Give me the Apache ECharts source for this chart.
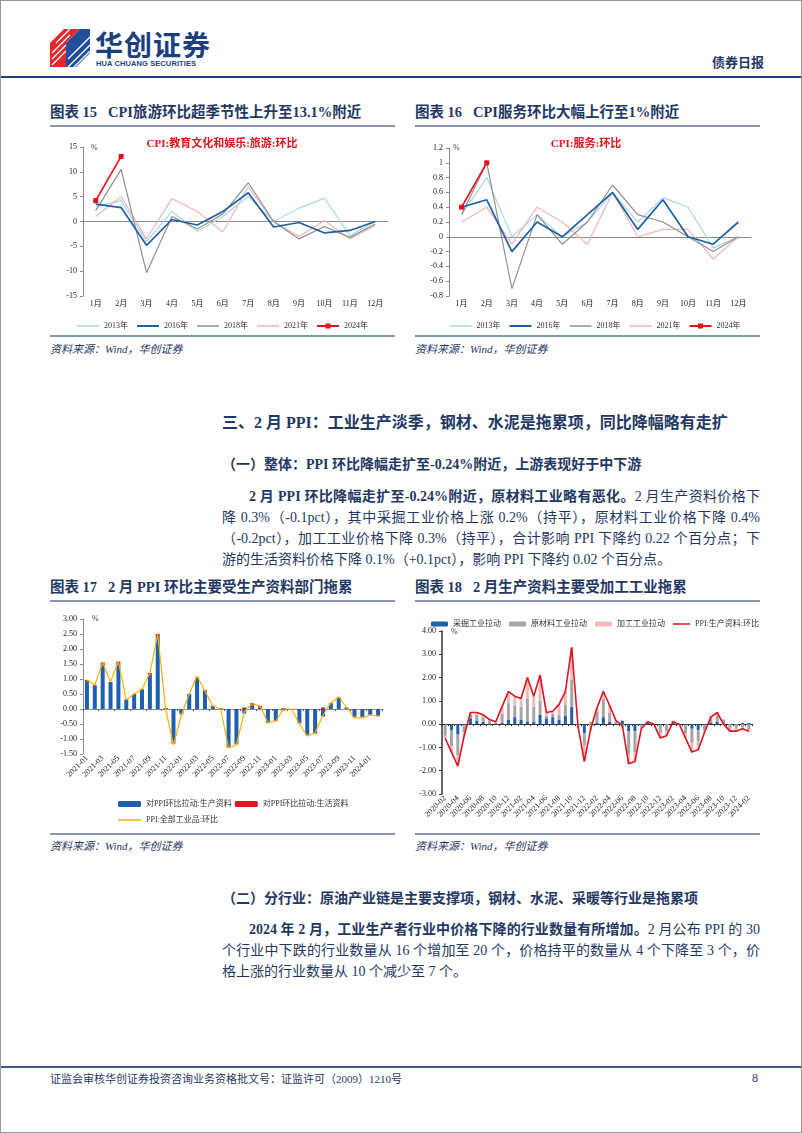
<!DOCTYPE html>
<html lang="zh">
<head>
<meta charset="utf-8">
<script src="https://cdn.jsdelivr.net/npm/echarts@6/dist/echarts.min.js"></script>
<style>
html,body{margin:0;padding:0;background:#fff;}
body{width:802px;height:1133px;position:relative;overflow:hidden;font-family:"Liberation Serif","Noto Sans CJK SC",serif;color:#1f3864;}
.frame{position:absolute;left:0;top:0;width:800px;height:1131px;border:1px solid #9a9a9a;}
.abs{position:absolute;white-space:nowrap;}
.ft{font-size:14.5px;font-weight:bold;line-height:20px;color:#1f3864;}
.rule{position:absolute;height:2px;background:#8496b0;}
.src{font-size:11px;font-style:italic;line-height:14px;color:#1f3864;}
.h1{font-size:16px;font-weight:bold;line-height:20px;}
.h2{font-size:14px;font-weight:bold;line-height:20px;}
.p{font-size:14px;line-height:21px;width:538px;}
.p div{white-space:nowrap;text-align:justify;text-align-last:justify;}
.p div.last{text-align-last:left;}
.p b{font-weight:bold;}
.chart{position:absolute;}
</style>
</head>
<body>
<div class="frame"></div>

<!-- header -->
<svg class="abs" style="left:50px;top:29px" width="40" height="38" viewBox="0 0 40 38">
  <polygon points="0,14 14,0 30,0 16,14" fill="#e8262b"/>
  <polygon points="0,14 16,14 16,38 0,38" fill="#e8262b"/>
  <polygon points="16,14 30,0 40,0 40,24 26,38 16,38" fill="#1f4e9c"/>
  <g stroke="#fff" stroke-width="1.3">
    <line x1="2" y1="36" x2="16" y2="22"/><line x1="2" y1="30" x2="16" y2="16"/><line x1="2" y1="24" x2="20" y2="6"/><line x1="6" y1="14" x2="20" y2="0"/>
    <line x1="18" y1="38" x2="40" y2="16"/><line x1="24" y1="38" x2="40" y2="22"/><line x1="18" y1="30" x2="40" y2="8"/>
  </g>
</svg>
<div class="abs" style="left:95px;top:28px;font-size:28px;font-weight:bold;line-height:32px;color:#1c3f7f;font-family:'Noto Sans CJK SC';letter-spacing:1px">华创证券</div>
<div class="abs" style="left:96px;top:59px;font-size:7.5px;font-weight:bold;line-height:9px;color:#1c3f7f;font-family:'Liberation Sans';letter-spacing:0.1px">HUA CHUANG SECURITIES</div>
<div class="abs" style="left:712px;top:55px;font-size:13px;font-weight:bold;line-height:16px;color:#1f3864">债券日报</div>
<div class="abs" style="left:1px;top:76px;width:800px;height:2px;background:#1f3d7a"></div>

<!-- figure 15 / 16 titles -->
<div class="abs ft" style="left:50px;top:102px">图表 15&nbsp;&nbsp;&nbsp;CPI旅游环比超季节性上升至13.1%附近</div>
<div class="rule" style="left:50px;top:125px;width:345px"></div>
<div class="abs ft" style="left:415px;top:102px">图表 16&nbsp;&nbsp;&nbsp;CPI服务环比大幅上行至1%附近</div>
<div class="rule" style="left:415px;top:125px;width:345px"></div>

<div id="c15" class="chart" style="left:50px;top:130px;width:345px;height:205px"></div>
<div id="c16" class="chart" style="left:410px;top:130px;width:370px;height:205px"></div>

<div class="rule" style="left:50px;top:335px;width:345px"></div>
<div class="abs src" style="left:50px;top:342px">资料来源：Wind，华创证券</div>
<div class="rule" style="left:415px;top:335px;width:345px"></div>
<div class="abs src" style="left:415px;top:342px">资料来源：Wind，华创证券</div>

<!-- section three -->
<div class="abs h1" style="left:222px;top:413px">三、2 月 PPI：工业生产淡季，钢材、水泥是拖累项，同比降幅略有走扩</div>
<div class="abs h2" style="left:222px;top:455px">（一）整体：PPI 环比降幅走扩至-0.24%附近，上游表现好于中下游</div>
<div class="abs p" style="left:222px;top:486px">
  <div style="padding-left:27px"><b>2 月 PPI 环比降幅走扩至-0.24%附近，原材料工业略有恶化。</b>2 月生产资料价格下</div>
  <div>降 0.3%（-0.1pct），其中采掘工业价格上涨 0.2%（持平），原材料工业价格下降 0.4%</div>
  <div>（-0.2pct），加工工业价格下降 0.3%（持平），合计影响 PPI 下降约 0.22 个百分点；下</div>
  <div class="last">游的生活资料价格下降 0.1%（+0.1pct），影响 PPI 下降约 0.02 个百分点。</div>
</div>

<!-- figure 17 / 18 titles -->
<div class="abs ft" style="left:50px;top:577px">图表 17&nbsp;&nbsp;&nbsp;2 月 PPI 环比主要受生产资料部门拖累</div>
<div class="rule" style="left:50px;top:600px;width:345px"></div>
<div class="abs ft" style="left:415px;top:577px">图表 18&nbsp;&nbsp;&nbsp;2 月生产资料主要受加工工业拖累</div>
<div class="rule" style="left:415px;top:600px;width:345px"></div>

<div id="c17" class="chart" style="left:50px;top:605px;width:345px;height:228px"></div>
<div id="c18" class="chart" style="left:410px;top:605px;width:370px;height:228px"></div>

<div class="rule" style="left:50px;top:833px;width:345px"></div>
<div class="abs src" style="left:50px;top:839px">资料来源：Wind，华创证券</div>
<div class="rule" style="left:415px;top:833px;width:345px"></div>
<div class="abs src" style="left:415px;top:839px">资料来源：Wind，华创证券</div>

<div class="abs h2" style="left:222px;top:889px">（二）分行业：原油产业链是主要支撑项，钢材、水泥、采暖等行业是拖累项</div>
<div class="abs p" style="left:222px;top:919px">
  <div style="padding-left:27px"><b>2024 年 2 月，工业生产者行业中价格下降的行业数量有所增加。</b>2 月公布 PPI 的 30</div>
  <div>个行业中下跌的行业数量从 16 个增加至 20 个，价格持平的数量从 4 个下降至 3 个，价</div>
  <div class="last">格上涨的行业数量从 10 个减少至 7 个。</div>
</div>

<!-- footer -->
<div class="abs" style="left:1px;top:1066px;width:800px;height:2px;background:#3a5a8c"></div>
<div class="abs" style="left:50px;top:1072px;font-size:11px;line-height:15px;color:#1f3864">证监会审核华创证券投资咨询业务资格批文号：证监许可（2009）1210号</div>
<div class="abs" style="left:752px;top:1071px;font-size:12px;line-height:15px;color:#1f3864">8</div>

<script>
// ---------- data ----------
const months = ['1月','2月','3月','4月','5月','6月','7月','8月','9月','10月','11月','12月'];
const yearNames = ['2013年','2016年','2018年','2021年','2024年'];

// 图表15 CPI:教育文化和娱乐:旅游:环比 (%)
const tour2013 = [3.0, 4.2, -4.0, 2.0, -2.0, 1.0, 5.0, 0.0, 2.7, 4.7, -2.8, 0.0];
const tour2016 = [3.5, 2.8, -4.8, 0.4, -0.7, 2.0, 5.8, -1.1, -0.2, -2.3, -1.8, 0.0];
const tour2018 = [2.2, 10.5, -10.3, 1.0, -1.5, 1.5, 7.8, 0.0, -3.5, -1.0, -3.2, -0.5];
const tour2021 = [1.0, 5.0, -3.5, 4.6, 2.0, -2.1, 7.0, 0.0, -3.0, 0.2, -3.5, -0.8];
const tour2024 = [4.2, 13.1];

// 图表16 CPI:服务:环比 (%)
const svc2013 = [0.3, 0.8, 0.0, 0.3, 0.0, 0.2, 0.6, 0.2, 0.53, 0.4, -0.15, 0.0];
const svc2016 = [0.4, 0.5, -0.2, 0.2, 0.0, 0.3, 0.6, 0.1, 0.5, 0.0, -0.1, 0.2];
const svc2018 = [0.3, 1.0, -0.7, 0.3, -0.1, 0.2, 0.7, 0.3, 0.2, 0.0, -0.2, 0.0];
const svc2021 = [0.2, 0.4, -0.1, 0.4, 0.2, -0.1, 0.6, 0.0, 0.1, 0.1, -0.3, 0.0];
const svc2024 = [0.4, 1.0];

// 图表17
const months17 = ['2021-01','2021-02','2021-03','2021-04','2021-05','2021-06','2021-07','2021-08','2021-09','2021-10','2021-11','2021-12',
  '2022-01','2022-02','2022-03','2022-04','2022-05','2022-06','2022-07','2022-08','2022-09','2022-10','2022-11','2022-12',
  '2023-01','2023-02','2023-03','2023-04','2023-05','2023-06','2023-07','2023-08','2023-09','2023-10','2023-11','2023-12',
  '2024-01','2024-02'];
const pullProd = [0.93,0.78,1.50,0.90,1.48,0.32,0.47,0.65,1.15,2.40,0.00,-1.10,
  -0.15,0.50,1.00,0.60,0.08,0.00,-1.25,-1.15,-0.15,0.12,0.05,-0.45,
  -0.38,0.03,0.00,-0.45,-0.85,-0.80,-0.25,0.18,0.38,0.05,-0.25,-0.25,
  -0.17,-0.22];
const pullLiving = [0.04,0.02,0.05,0.00,0.10,-0.03,0.03,0.02,0.05,0.10,0.03,-0.05,
  -0.03,0.00,0.05,0.03,0.03,0.03,-0.03,-0.03,0.05,0.08,0.05,-0.02,
  -0.02,-0.05,0.00,-0.03,-0.03,-0.02,0.05,0.02,0.02,0.00,-0.03,-0.03,
  -0.02,-0.02];
const ppiAll = [0.97,0.80,1.55,0.90,1.58,0.30,0.50,0.67,1.20,2.50,0.00,-1.20,
  -0.20,0.50,1.10,0.60,0.10,0.00,-1.30,-1.20,-0.10,0.18,0.10,-0.45,
  -0.40,0.00,0.00,-0.50,-0.90,-0.80,-0.20,0.20,0.40,0.05,-0.30,-0.30,
  -0.20,-0.24];

// 图表18
const months18 = ['2020-02','2020-03','2020-04','2020-05','2020-06','2020-07','2020-08','2020-09','2020-10','2020-11','2020-12',
  '2021-01','2021-02','2021-03','2021-04','2021-05','2021-06','2021-07','2021-08','2021-09','2021-10','2021-11','2021-12',
  '2022-01','2022-02','2022-03','2022-04','2022-05','2022-06','2022-07','2022-08','2022-09','2022-10','2022-11','2022-12',
  '2023-01','2023-02','2023-03','2023-04','2023-05','2023-06','2023-07','2023-08','2023-09','2023-10','2023-11','2023-12',
  '2024-01','2024-02'];
const mining = [-0.05,-0.25,-0.45,-0.05,0.25,0.15,0.10,0.00,0.00,0.05,0.20,
  0.30,0.20,0.10,0.10,0.40,0.25,0.30,0.20,0.35,0.75,0.00,-0.40,
  0.00,0.05,0.30,0.10,0.00,0.15,-0.30,-0.30,-0.05,0.05,0.00,-0.05,
  0.00,0.05,0.00,-0.05,-0.20,-0.25,-0.05,0.05,0.10,0.00,0.00,0.00,
  0.05,0.05];
const rawMat = [-0.45,-0.70,-0.90,-0.30,0.15,0.25,0.20,0.15,0.05,0.40,0.70,
  0.50,0.55,1.00,0.65,0.60,0.10,0.15,0.20,0.50,1.15,-0.05,-0.50,
  0.10,0.50,0.80,0.40,0.10,-0.10,-1.00,-0.90,-0.10,0.05,0.00,-0.35,
  -0.30,0.10,0.00,-0.35,-0.60,-0.50,-0.20,0.20,0.25,0.20,-0.20,-0.20,
  -0.15,-0.25];
const processing = [-0.10,-0.25,-0.45,-0.15,0.10,0.10,0.10,0.05,0.05,0.30,0.50,
  0.40,0.35,0.90,0.45,1.10,0.15,0.10,0.45,0.55,1.40,-0.10,-0.70,
  -0.30,0.15,0.30,0.30,0.05,-0.10,-0.40,-0.40,-0.05,0.00,0.00,-0.20,
  -0.20,0.00,0.00,-0.20,-0.40,-0.35,-0.10,0.10,0.15,-0.05,-0.10,-0.10,
  -0.10,-0.10];
const ppiProdLine = [-0.6,-1.2,-1.8,-0.5,0.5,0.5,0.4,0.2,0.1,0.75,1.4,
  1.2,1.1,2.0,1.2,2.1,0.5,0.55,0.85,1.4,3.3,-0.1,-1.6,
  -0.2,0.7,1.4,0.8,0.15,-0.05,-1.7,-1.6,-0.2,0.1,0.0,-0.6,
  -0.5,0.1,0.0,-0.6,-1.2,-1.1,-0.35,0.3,0.5,0.0,-0.3,-0.3,
  -0.2,-0.3];

// ---------- charts ----------
const FONT = '"Liberation Serif","Noto Sans CJK SC",serif';
const AX = '#8a8a8a';

// legend icon: plain line (bbox padded to full item box with invisible specks)
function lineIcon(w, h, t){
  const y0 = (h - t) / 2, y1 = y0 + t;
  return 'path://M0,0L0.01,0L0.01,0.01Z M0,' + y0 + 'L' + w + ',' + y0 + 'L' + w + ',' + y1 + 'L0,' + y1 + 'Z M' + w + ',' + h + 'L' + (w - 0.01) + ',' + h + 'L' + w + ',' + (h - 0.01) + 'Z';
}
function lineSquareIcon(w, h, t, s){
  const y0 = (h - t) / 2, y1 = y0 + t, x0 = (w - s) / 2, x1 = x0 + s, s0 = (h - s) / 2, s1 = s0 + s;
  return 'path://M0,0L0.01,0L0.01,0.01Z M0,' + y0 + 'L' + x0 + ',' + y0 + 'L' + x0 + ',' + s0 + 'L' + x1 + ',' + s0 + 'L' + x1 + ',' + y0 +
    'L' + w + ',' + y0 + 'L' + w + ',' + y1 + 'L' + x1 + ',' + y1 + 'L' + x1 + ',' + s1 + 'L' + x0 + ',' + s1 + 'L' + x0 + ',' + y1 + 'L0,' + y1 +
    'Z M' + w + ',' + h + 'L' + (w - 0.01) + ',' + h + 'L' + w + ',' + (h - 0.01) + 'Z';
}

function txt(x, y, text, size, color, weight, align){
  return {type:'text', x:x, y:y, style:{text:text, fontSize:size, fontWeight:weight||'normal', fontFamily:FONT, fill:color, align:align||'left', verticalAlign:'middle'}};
}

function cpiOption(title, titleX, pctX, grid, yMin, yMax, yInt, fmt, d13, d16, d18, d21, d24){
  const mk = (name, data, color, w, sym, z) => ({
    name:name, type:'line', data:data, symbol: sym ? 'rect' : 'none', symbolSize:5, showSymbol: !!sym,
    lineStyle:{color:color, width:w}, itemStyle:{color:color}, z:z, emphasis:{disabled:true}
  });
  const li = lineIcon(22, 7, 1.6), lw = lineIcon(22, 7, 2);
  return {
    animation:false,
    textStyle:{fontFamily:FONT},
    grid:grid,
    graphic:[txt(titleX, 14, title, 11, '#e3121b', 'bold', 'center'), txt(pctX, 18, '%', 8, '#333')],
    legend:{left:'center', top:187, itemWidth:22, itemHeight:7, itemGap:9,
      textStyle:{fontSize:8, color:'#333', fontFamily:FONT},
      data:[{name:yearNames[0], icon:li}, {name:yearNames[1], icon:lw}, {name:yearNames[2], icon:li},
            {name:yearNames[3], icon:li}, {name:yearNames[4], icon:lineSquareIcon(22, 7, 2, 5)}]},
    xAxis:[
      {type:'category', data:months, boundaryGap:true,
       axisLine:{onZero:true, lineStyle:{color:AX, width:1}}, axisTick:{show:false}, axisLabel:{show:false}},
      {type:'category', data:months, boundaryGap:true, position:'bottom',
       axisLine:{show:false, onZero:false}, axisTick:{show:false},
       axisLabel:{fontSize:8, color:'#222', margin:4, fontFamily:FONT}}
    ],
    yAxis:{type:'value', min:yMin, max:yMax, interval:yInt,
      axisLine:{show:true, lineStyle:{color:AX}}, axisTick:{show:true, length:3, lineStyle:{color:AX}},
      splitLine:{show:false}, axisLabel:{fontSize:8, color:'#222', margin:6, formatter:fmt, fontFamily:FONT}},
    series:[
      mk(yearNames[0], d13, '#a8d8ea', 1.2, false, 2),
      mk(yearNames[1], d16, '#1f5fa6', 1.7, false, 4),
      mk(yearNames[2], d18, '#8e8e8e', 1.2, false, 3),
      mk(yearNames[3], d21, '#f2b6b6', 1.2, false, 2),
      mk(yearNames[4], d24, '#e3121b', 1.7, true, 6)
    ]
  };
}

const c15 = echarts.init(document.getElementById('c15'));
c15.setOption(cpiOption('CPI:教育文化和娱乐:旅游:环比', 172, 41,
  {left:33, right:7, top:17, bottom:39}, -15, 15, 5, v => String(v),
  tour2013, tour2016, tour2018, tour2021, tour2024));

const c16 = echarts.init(document.getElementById('c16'));
c16.setOption(cpiOption('CPI:服务:环比', 176, 43,
  {left:39, right:29, top:18, bottom:39}, -0.8, 1.2, 0.2, v => String(+v.toFixed(1)),
  svc2013, svc2016, svc2018, svc2021, svc2024));

// 图表17
const n1 = '对PPI环比拉动:生产资料', n2 = '对PPI环比拉动:生活资料', n3 = 'PPI:全部工业品:环比';
const c17 = echarts.init(document.getElementById('c17'));
c17.setOption({
  animation:false,
  textStyle:{fontFamily:FONT},
  grid:{left:33, right:13, top:14, bottom:79},
  graphic:[txt(42, 14, '%', 8, '#333')],
  legend:[
    {data:[n1, n2], left:63, top:190, itemWidth:23, itemHeight:6, itemGap:3,
     textStyle:{fontSize:8, color:'#333', fontFamily:FONT}},
    {data:[{name:n3, icon:lineIcon(23, 6, 1.4)}], left:63, top:206, itemWidth:23, itemHeight:6,
     textStyle:{fontSize:8, color:'#333', fontFamily:FONT}}
  ],
  xAxis:[
    {type:'category', data:months17, axisLine:{onZero:true, lineStyle:{color:AX}},
     axisTick:{show:true, length:2, interval:1, lineStyle:{color:'#555'}}, axisLabel:{show:false}},
    {type:'category', data:months17, position:'bottom', axisLine:{show:false, onZero:false}, axisTick:{show:false},
     axisLabel:{rotate:45, interval:1, fontSize:8, color:'#222', margin:3, fontFamily:FONT}}
  ],
  yAxis:{type:'value', min:-1.5, max:3, interval:0.5,
    axisLine:{show:true, lineStyle:{color:AX}}, axisTick:{show:true, length:3, lineStyle:{color:AX}},
    splitLine:{show:false}, axisLabel:{fontSize:8, color:'#222', margin:6, formatter:v => v.toFixed(2), fontFamily:FONT}},
  series:[
    {name:n1, type:'bar', stack:'p', data:pullProd, barWidth:4, itemStyle:{color:'#1f5fb0'}},
    {name:n2, type:'bar', stack:'p', data:pullLiving, barWidth:4, itemStyle:{color:'#e0141e'}},
    {name:n3, type:'line', data:ppiAll, symbol:'none', lineStyle:{color:'#f5b400', width:1.2}, itemStyle:{color:'#f5b400'}, z:5}
  ]
});

// 图表18
const m1 = '采掘工业拉动', m2 = '原材料工业拉动', m3 = '加工工业拉动', m4 = 'PPI:生产资料:环比';
const c18 = echarts.init(document.getElementById('c18'));
c18.setOption({
  animation:false,
  textStyle:{fontFamily:FONT},
  grid:{left:32, right:28, top:26, bottom:39},
  graphic:[txt(41, 27, '%', 8, '#333')],
  legend:{data:[m1, m2, m3, {name:m4, icon:lineIcon(17, 5, 1.6)}], left:'center', top:10, itemWidth:17, itemHeight:5, itemGap:8,
    textStyle:{fontSize:8, color:'#333', fontFamily:FONT}},
  xAxis:[
    {type:'category', data:months18, axisLine:{onZero:true, lineStyle:{color:'#333', width:1}},
     axisTick:{show:true, length:2, interval:0, lineStyle:{color:'#333'}}, axisLabel:{show:false}},
    {type:'category', data:months18, position:'bottom', axisLine:{show:false, onZero:false}, axisTick:{show:false},
     axisLabel:{rotate:45, interval:1, fontSize:8, color:'#222', margin:3, fontFamily:FONT}}
  ],
  yAxis:{type:'value', min:-3, max:4, interval:1,
    axisLine:{show:true, lineStyle:{color:'#333', width:1.5}}, axisTick:{show:true, length:3, lineStyle:{color:'#333'}},
    splitLine:{show:false}, axisLabel:{fontSize:8, color:'#222', margin:6, formatter:v => v.toFixed(2), fontFamily:FONT}},
  series:[
    {name:m1, type:'bar', stack:'s', data:mining, barWidth:3, itemStyle:{color:'#1f5fb0'}},
    {name:m2, type:'bar', stack:'s', data:rawMat, barWidth:3, itemStyle:{color:'#a5a5a5'}},
    {name:m3, type:'bar', stack:'s', data:processing, barWidth:3, itemStyle:{color:'#f2baba'}},
    {name:m4, type:'line', data:ppiProdLine, symbol:'none', lineStyle:{color:'#e0141e', width:1.6}, itemStyle:{color:'#e0141e'}, z:5}
  ]
});
</script>
</body>
</html>
